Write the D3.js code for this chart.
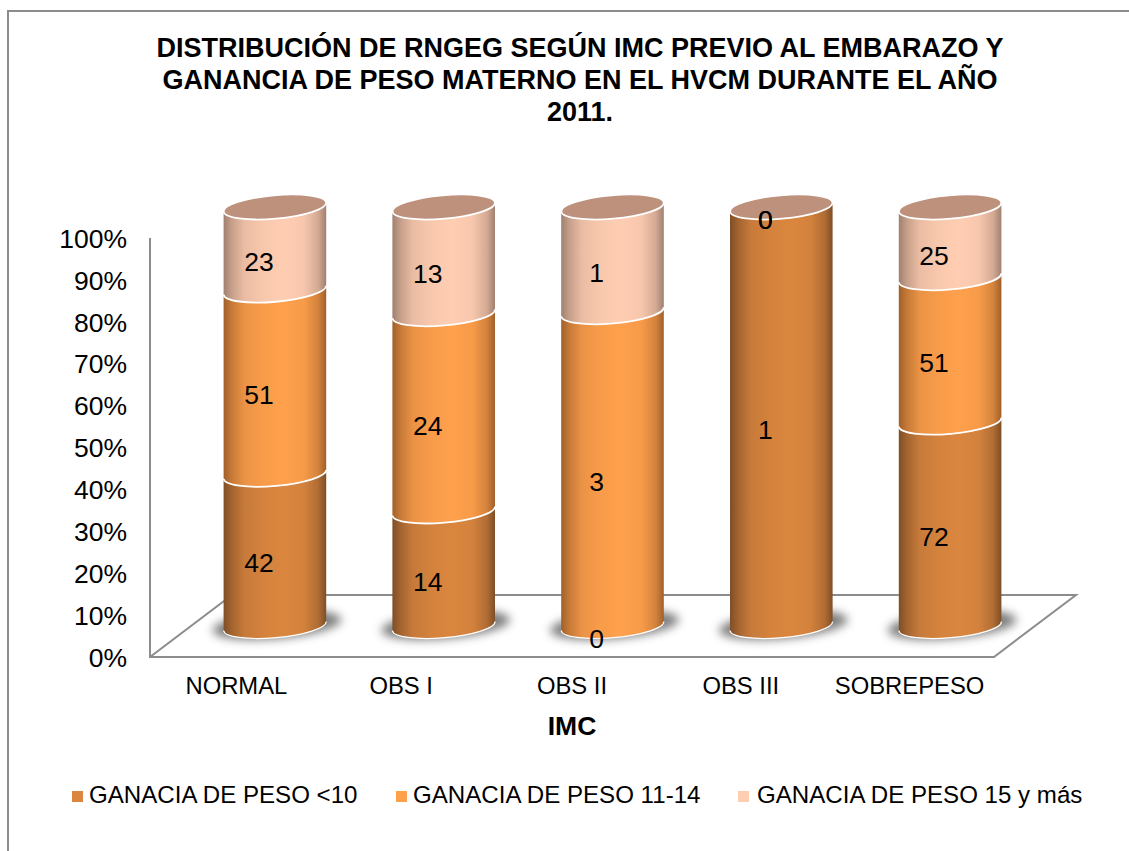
<!DOCTYPE html>
<html><head><meta charset="utf-8">
<script src="https://cdnjs.cloudflare.com/ajax/libs/d3/7.8.5/d3.min.js"></script>
<style>html,body{margin:0;padding:0;background:#fff}svg{display:block}text{font-family:"Liberation Sans",Arial,sans-serif;fill:#000}</style>
</head><body><svg id="c" width="1129" height="851"></svg>
<script>
const titleLines = ["DISTRIBUCIÓN DE RNGEG SEGÚN IMC PREVIO AL EMBARAZO Y","GANANCIA DE PESO MATERNO EN EL HVCM DURANTE EL AÑO","2011."];
const categories = ["NORMAL","OBS I","OBS II","OBS III","SOBREPESO"];
const seriesNames = ["GANACIA DE PESO <10","GANACIA DE PESO 11-14","GANACIA DE PESO 15 y más"];
const lowGain = [42,14,0,1,72];
const midGain = [51,24,3,0,51];
const highGain = [23,13,1,0,25];
const axisTitle = "IMC";
const centerColors = ["#DA863F","#FFA04C","#FFCDB2"];
const edgeColors = ["#7E4E26","#A0602A","#A08070"];
const capColor = "#BE917C";

const svg = d3.select("#c");
const defs = svg.append("defs");
const grey = "#8c8c8c";
svg.append("path").attr("d","M8 851V11H1129").attr("fill","none").attr("stroke",grey).attr("stroke-width",2);

svg.append("text").attr("text-anchor","middle").attr("font-weight","bold").attr("font-size",27)
  .selectAll("tspan").data(titleLines).join("tspan").attr("x",580).attr("y",(d,i)=>56.5+i*32).text(d=>d);

const x = d3.scaleBand().domain(categories).range([150,994]);
const y = d3.scaleLinear().domain([0,1]).range([657,238]);
const depthX = 40.5, depthY = -31;

seriesNames.forEach((s,i)=>{
  const g = defs.append("linearGradient").attr("id","g"+i).attr("x1",0).attr("x2",1).attr("y1",0).attr("y2",0);
  const mix = d3.interpolateRgb(edgeColors[i],centerColors[i]);
  [[0,0],[.08,.4],[.2,.78],[.38,.93],[.58,1],[.78,.92],[.92,.55],[1,0]]
    .forEach(([o,m])=>g.append("stop").attr("offset",o).attr("stop-color",mix(m)));
});
defs.append("filter").attr("id","blur").attr("x","-30%").attr("y","-80%").attr("width","160%").attr("height","260%")
  .append("feGaussianBlur").attr("stdDeviation",5);

const fx0 = x.range()[0], fx1 = x.range()[1];
svg.append("path").attr("fill","none").attr("stroke",grey).attr("stroke-width",2).attr("stroke-linejoin","miter")
  .attr("d",`M${fx0} ${y(1)}V${y(0)}H${fx1}L${fx1+82} ${y(0)+depthY*2}H${fx0+82}L${fx0} ${y(0)}`);

const yAxis = d3.axisLeft(y).tickValues(d3.range(0,1.01,.1)).tickFormat(d3.format(".0%")).tickSize(0).tickPadding(0);
const ga = svg.append("g").attr("transform",`translate(${fx0-23},0)`).call(yAxis);
ga.select(".domain").remove();
ga.selectAll("text").attr("font-size",26.5).attr("dy","0.35em").style("font-family",'"Liberation Sans"');

const labelNudge = {"NORMAL":2,"OBS I":-2};
svg.append("g").selectAll("text").data(categories).join("text")
  .attr("x",d=>x(d)+x.bandwidth()/2+(labelNudge[d]||0)).attr("y",693.5).attr("text-anchor","middle").attr("font-size",23.8).text(d=>d);
svg.append("text").attr("x",572).attr("y",735).attr("text-anchor","middle").attr("font-weight","bold").attr("font-size",26.5).text(axisTitle);

const rx=51.5, ry=11.7, rot=-5, th=rot*Math.PI/180;
const dx=rx*Math.cos(th), dy=rx*Math.sin(th);
const rows = categories.map((c,i)=>{
  const vals=[lowGain[i],midGain[i],highGain[i]], t=d3.sum(vals); let acc=0;
  return {c,segs:vals.map((v,k)=>{const s={k,v,a:acc/t,b:(acc+v)/t};acc+=v;return s;})};
});
const cx = c => x(c)+x.bandwidth()/2+depthX;
const cy = f => y(f)+depthY;
svg.append("g").selectAll("ellipse").data(categories).join("ellipse")
  .attr("cx",c=>cx(c)+2).attr("cy",cy(0)-1).attr("rx",rx+13).attr("ry",ry+2)
  .attr("transform",c=>`rotate(${rot} ${cx(c)+2} ${cy(0)-1})`)
  .attr("fill","#666").attr("opacity",.85).attr("filter","url(#blur)");

const bars = svg.append("g").selectAll("g").data(rows).join("g");
bars.each(function(r){
  const g=d3.select(this), X=cx(r.c);
  r.segs.filter(s=>s.v>0).forEach(s=>{
    const yb=cy(s.a), yt=cy(s.b);
    g.append("path").attr("fill",`url(#g${s.k})`)
      .attr("d",`M${X-dx} ${yb-dy}A${rx} ${ry} ${rot} 0 0 ${X+dx} ${yb+dy}L${X+dx} ${yt+dy}A${rx} ${ry} ${rot} 0 1 ${X-dx} ${yt-dy}Z`);
    g.append("path").attr("fill","none").attr("stroke","#fff").attr("stroke-width",s.a===0?1.2:1.8)
      .attr("d",`M${X-dx} ${yb-dy}A${rx} ${ry} ${rot} 0 0 ${X+dx} ${yb+dy}`);
  });
  g.append("ellipse").attr("cx",X).attr("cy",cy(1)).attr("rx",rx).attr("ry",ry)
    .attr("transform",`rotate(${rot} ${X} ${cy(1)})`).attr("fill",capColor).attr("stroke","#fff").attr("stroke-width",1.8);
  r.segs.forEach(s=>{
    g.append("text").attr("x",X-16).attr("y",y((s.a+s.b)/2)-18).attr("dy","0.35em").attr("text-anchor","middle").attr("font-size",26.5).text(s.v);
  });
});

const legendX=[72,396,738], legendTextX=[89,413,757];
const lg=svg.append("g").selectAll("g").data(seriesNames).join("g");
lg.append("rect").attr("x",(d,i)=>legendX[i]).attr("y",791).attr("width",11).attr("height",11).attr("fill",(d,i)=>centerColors[i]);
lg.append("text").attr("x",(d,i)=>legendTextX[i]).attr("y",803).attr("font-size",24.1).text(d=>d);
</script></body></html>
